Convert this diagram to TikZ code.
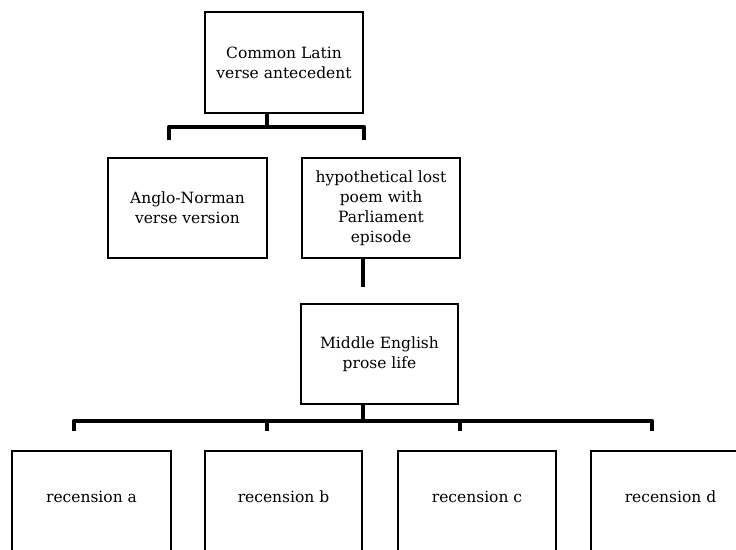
\documentclass[tikz,border=0pt]{standalone}
\usepackage{fontspec}
\setmainfont{DejaVu Serif}
\begin{document}
\begin{tikzpicture}[x=1pt,y=-1pt,
  box/.style={draw=black, line width=1.6pt, fill=white, inner sep=0pt, align=center,
    font=\fontsize{15.5}{20}\selectfont},
  lbl/.style={font=\fontsize{15.5}{20}\selectfont},
  conn/.style={draw=black, line width=4.5pt, line join=round, line cap=butt}]
\useasboundingbox (0,0) rectangle (736,549);
\clip (0,0) rectangle (736,549);
% nodes
\node[box, minimum width=158pt, minimum height=101pt] (common) at (284,62.5) {Common Latin\\verse antecedent};
\node[box, minimum width=159pt, minimum height=100pt] (anglo) at (187.5,208) {Anglo-Norman\\verse version};
\node[box, minimum width=158pt, minimum height=100pt] (hyp) at (381,208) {hypothetical lost\\poem with\\Parliament\\episode};
\node[box, minimum width=157pt, minimum height=100pt] (me) at (379.5,354) {Middle English\\prose life};
\node[box, minimum width=159pt, minimum height=109pt] (ra) at (91.5,505.5) {};
\node[box, minimum width=157pt, minimum height=109pt] (rb) at (283.5,505.5) {};
\node[box, minimum width=158pt, minimum height=109pt] (rc) at (477,505.5) {};
\node[box, minimum width=159pt, minimum height=109pt] (rd) at (670.5,505.5) {};
\node[lbl] (ta) at (91.5,497) {recension a};
\node[lbl] (tb) at (283.5,497) {recension b};
\node[lbl] (tc) at (477,497) {recension c};
\node[lbl] (td) at (670.5,497) {recension d};
% junction coordinates
\coordinate (j1) at ([xshift=-17pt]common.south |- 0,127);
\coordinate (j2) at ([xshift=-16.5pt]me.south |- 0,421);
% top connectors
\draw[conn] ([xshift=-17pt]common.south) -- (j1);
\draw[conn] ([xshift=-18.5pt]anglo.north |- 0,140) -- ([xshift=-18.5pt]anglo.north |- j1)
  -- ([xshift=-17pt]hyp.north |- j1) -- ([xshift=-17pt]hyp.north |- 0,140);
\draw[conn] ([xshift=-18pt]hyp.south) -- ([xshift=-18pt]hyp.south |- 0,287);
% bottom connectors
\draw[conn] ([xshift=-16.5pt]me.south) -- (j2);
\draw[conn] ([xshift=-17.5pt]ra.north |- 0,431) -- ([xshift=-17.5pt]ra.north |- j2)
  -- ([xshift=-18.5pt]rd.north |- j2) -- ([xshift=-18.5pt]rd.north |- 0,431);
\draw[conn] ([xshift=-16.5pt]rb.north |- j2) -- ([xshift=-16.5pt]rb.north |- 0,431);
\draw[conn] ([xshift=-17pt]rc.north |- j2) -- ([xshift=-17pt]rc.north |- 0,431);
\end{tikzpicture}
\end{document}
